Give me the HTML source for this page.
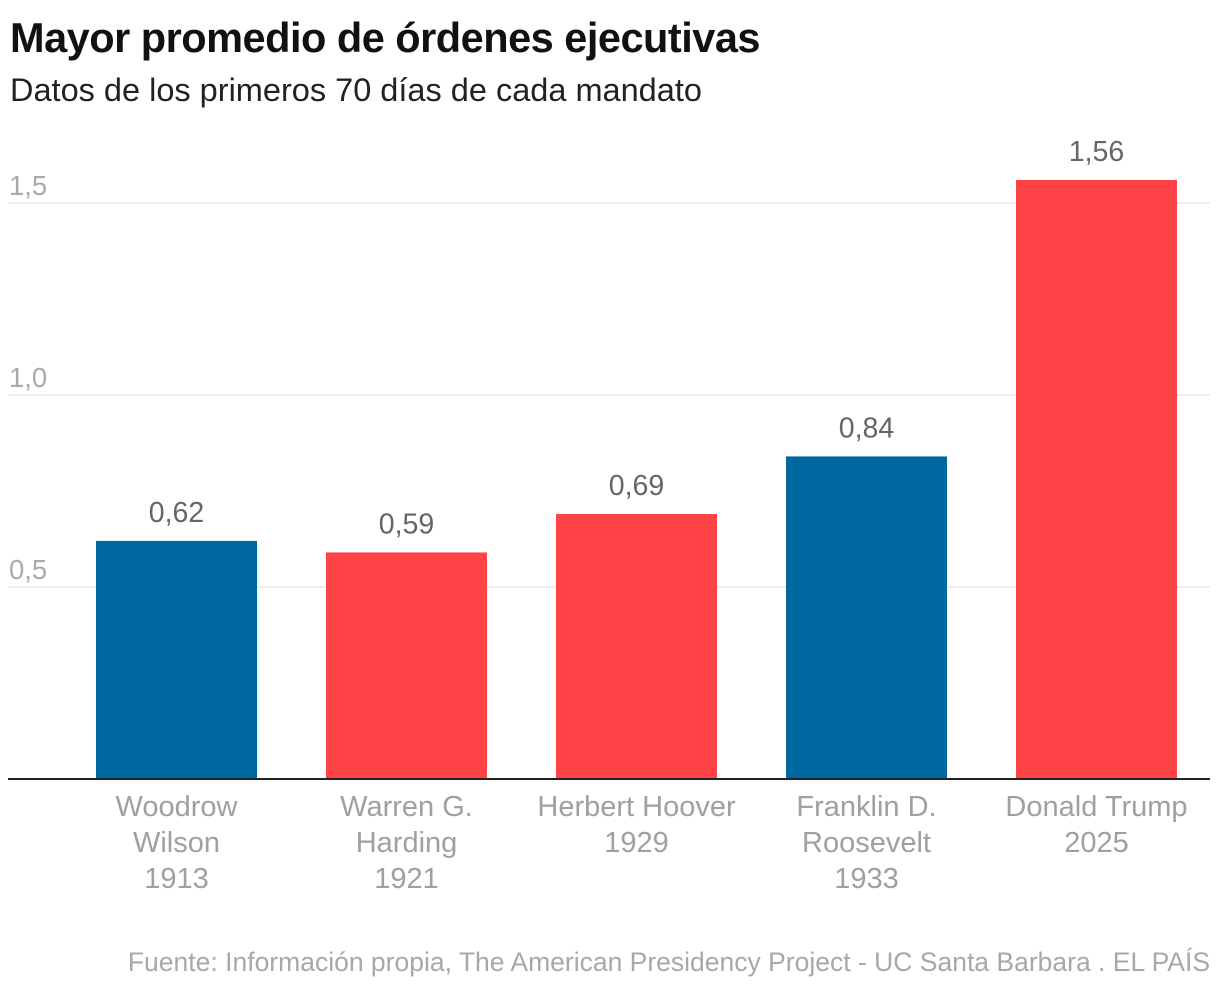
<!DOCTYPE html>
<html><head><meta charset="utf-8">
<style>
body{margin:0;background:#fff;width:1220px;height:992px;overflow:hidden;font-family:"Liberation Sans",sans-serif;}
#title{position:absolute;left:10px;top:14px;font-size:41.5px;font-weight:bold;color:#111;letter-spacing:-0.5px;margin:0;white-space:nowrap}
#subtitle{position:absolute;left:10px;top:72px;font-size:32.5px;color:#222;margin:0;white-space:nowrap}
#source{position:absolute;right:10px;top:947px;font-size:26.5px;color:#a8a8a8;white-space:nowrap}
svg{position:absolute;left:0;top:0}
</style></head><body>
<h1 id="title">Mayor promedio de órdenes ejecutivas</h1>
<p id="subtitle">Datos de los primeros 70 días de cada mandato</p>
<svg id="chart" width="1220" height="992"></svg>
<div id="source">Fuente: Información propia, The American Presidency Project - UC Santa Barbara . EL PAÍS</div>
<script>
const categories=[["Woodrow","Wilson","1913"],["Warren G.","Harding","1921"],["Herbert Hoover","1929"],["Franklin D.","Roosevelt","1933"],["Donald Trump","2025"]];
const values=[0.62,0.59,0.69,0.84,1.56];
const labels=["0,62","0,59","0,69","0,84","1,56"];
const parties=["D","R","R","D","R"];
const ticks=[0.5,1.0,1.5];
const tickLabels=["0,5","1,0","1,5"];
const NS="http://www.w3.org/2000/svg";
const svg=document.getElementById('chart');
const y=v=>779-v*384;
const x=i=>96+i*230;
const bw=161;
function mk(t,a,txt){const e=document.createElementNS(NS,t);for(const k in a)e.setAttribute(k,a[k]);if(txt!=null)e.textContent=txt;svg.appendChild(e);return e;}
ticks.forEach((t,i)=>{
  const l=mk('line',{x1:8,x2:1210,y1:y(t),y2:y(t),stroke:'#dcdcdc','stroke-width':1});
  
  
  const tx=mk('text',{x:9,y:y(t)-8,'font-size':27.5,fill:'#aaa','font-family':'Liberation Sans, sans-serif'},tickLabels[i]);
  
  
});
values.forEach((v,i)=>{
  const r=mk('rect',{x:x(i),y:y(v),width:bw,height:y(0)-y(v),fill:parties[i]==='D'?'#0068a0':'#ff4245'});
  
  
  const t=mk('text',{x:x(i)+bw/2,y:y(v)-19,'text-anchor':'middle','font-size':28.5,fill:'#666','font-family':'Liberation Sans, sans-serif'},labels[i]);
  
  
  categories[i].forEach((s,j)=>{
    const c=mk('text',{x:x(i)+bw/2,y:816+j*36,'text-anchor':'middle','font-size':29,fill:'#a0a0a0','font-family':'Liberation Sans, sans-serif'},s);
    
    
  });
});
const ax=mk('line',{x1:8,x2:1210,y1:779,y2:779,stroke:'#222','stroke-width':2});


</script>
</body></html>
